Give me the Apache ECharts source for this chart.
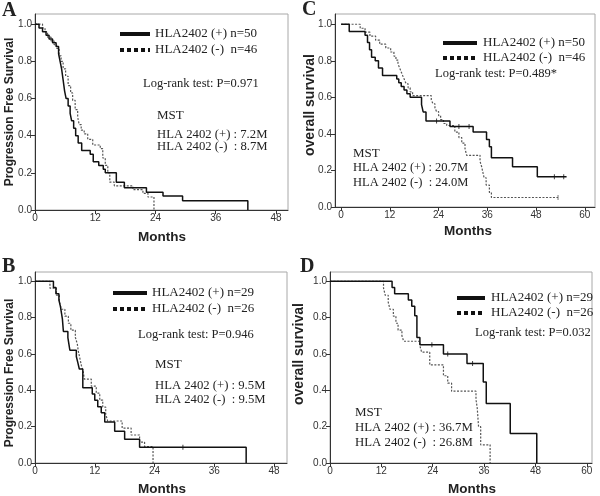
<!DOCTYPE html>
<html><head><meta charset="utf-8">
<script src="https://cdn.jsdelivr.net/npm/echarts@6/dist/echarts.min.js"></script>
<style>html,body{margin:0;padding:0;background:#fff}#c{width:600px;height:496px}</style>
</head><body><div id="c"></div>
<script>
// ---- data: [month, survival] step events ----
const xTicks48 = [0, 12, 24, 36, 48];
const xTicks60 = [0, 12, 24, 36, 48, 60];
const yTicks = [0, 0.2, 0.4, 0.6, 0.8, 1.0];

const aPos = [[0,1],[0.8,0.98],[1.5,0.96],[2.2,0.94],[2.8,0.92],[3.5,0.90],[4.2,0.88],[4.7,0.84],[5.0,0.80],[5.3,0.76],[5.6,0.70],[5.9,0.64],[6.2,0.60],[6.6,0.56],[7.0,0.52],[7.3,0.48],[7.7,0.44],[8.1,0.40],[8.6,0.36],[9.3,0.32],[11.0,0.30],[11.6,0.26],[12.7,0.24],[13.6,0.22],[14.0,0.20],[16.2,0.15],[17.8,0.12],[22.2,0.095],[25.5,0.075],[29.4,0.05],[42.4,0.0]];
const aNeg = [[0,1],[1.5,0.98],[2.0,0.96],[2.5,0.93],[3.2,0.91],[3.8,0.89],[4.3,0.87],[4.8,0.83],[5.2,0.80],[5.6,0.76],[6.1,0.72],[6.6,0.67],[7.1,0.63],[7.5,0.59],[8.0,0.54],[8.5,0.50],[8.8,0.46],[9.2,0.43],[9.8,0.41],[10.5,0.38],[11.5,0.35],[13.0,0.33],[13.5,0.28],[14.0,0.24],[14.5,0.20],[14.9,0.15],[15.8,0.13],[19.5,0.11],[21.5,0.09],[22.5,0.07],[23.7,0.0]];

const bPos = [[0,1],[3.7,0.966],[4.2,0.931],[4.8,0.897],[5.1,0.862],[5.3,0.828],[5.5,0.793],[5.7,0.724],[6.6,0.69],[7.0,0.621],[8.3,0.586],[8.6,0.552],[8.9,0.517],[9.6,0.414],[11.5,0.379],[12.0,0.345],[12.6,0.31],[13.3,0.276],[14.0,0.226],[16.0,0.175],[18.0,0.13],[21.0,0.087],[42.4,0.0]];
const bNeg = [[0,1],[3.0,0.962],[4.3,0.923],[4.9,0.885],[5.3,0.846],[6.0,0.808],[6.7,0.769],[7.2,0.731],[8.1,0.692],[8.5,0.654],[8.7,0.615],[9.0,0.577],[9.3,0.538],[9.7,0.50],[9.9,0.462],[11.3,0.423],[12.3,0.385],[13.0,0.346],[13.6,0.308],[14.2,0.269],[14.6,0.231],[17.5,0.192],[19.3,0.154],[21.0,0.115],[22.0,0.09],[23.7,0.0]];

const cPos = [[0,1],[2.0,0.96],[5.9,0.94],[6.5,0.90],[7.0,0.86],[7.5,0.82],[8.4,0.80],[9.2,0.76],[10.2,0.72],[13.7,0.70],[14.2,0.68],[14.8,0.66],[15.5,0.64],[16.2,0.62],[17.0,0.60],[19.8,0.56],[20.2,0.52],[20.9,0.47],[26.8,0.44],[32.5,0.41],[35.8,0.37],[36.5,0.33],[37.0,0.27],[42.2,0.22],[48.3,0.165],[55.5,0.165]];
const cNeg = [[0,1],[4.7,0.978],[5.9,0.957],[7.1,0.935],[8.5,0.913],[9.5,0.891],[11.0,0.87],[12.2,0.848],[13.0,0.826],[13.5,0.804],[14.0,0.783],[14.4,0.761],[14.8,0.739],[15.2,0.717],[15.6,0.696],[16.0,0.674],[16.5,0.652],[17.0,0.63],[17.6,0.609],[22.2,0.587],[22.6,0.565],[23.1,0.543],[23.5,0.522],[24.0,0.50],[24.5,0.478],[25.2,0.457],[26.0,0.446],[28.0,0.41],[29.0,0.38],[29.7,0.35],[30.5,0.32],[30.9,0.283],[34.2,0.25],[34.6,0.22],[34.9,0.19],[35.2,0.16],[35.7,0.12],[36.5,0.08],[37.0,0.052],[53.4,0.052]];

const dPos = [[0,1],[14.5,0.966],[15.1,0.931],[18.3,0.897],[19.1,0.862],[19.8,0.81],[20.3,0.69],[21.0,0.65],[26.5,0.60],[32.0,0.547],[35.8,0.446],[36.5,0.327],[42.1,0.163],[48.3,0.0]];
const dNeg = [[0,1],[12.5,0.962],[12.9,0.923],[13.6,0.885],[14.0,0.846],[14.8,0.808],[15.4,0.769],[15.9,0.731],[16.8,0.70],[17.2,0.67],[21.0,0.645],[21.4,0.61],[23.3,0.54],[26.5,0.48],[27.5,0.44],[28.4,0.395],[34.1,0.35],[34.4,0.30],[34.7,0.20],[35.2,0.10],[37.4,0.0]];

// censor marks
const bPosCens = [[29.7,0.087]];
const cPosCens = [[23.5,0.47],[29.0,0.44],[31.5,0.44],[52.5,0.165],[54.8,0.165]];
const cNegCens = [[53.4,0.052]];
const dPosCens = [[23.8,0.65],[27.5,0.60],[33.3,0.547]];

// ---- layout ----
const panels = [
  {grid:{left:35,top:14,width:253,height:196}, xmin:0, xmax:50.4, ymax:1.055, ticks:xTicks48, pos:aPos, neg:aNeg, pc:[], nc:[]},
  {grid:{left:35,top:272,width:252,height:191}, xmin:0, xmax:50.6, ymax:1.051, ticks:xTicks48, pos:bPos, neg:bNeg, pc:bPosCens, nc:[]},
  {grid:{left:335,top:14,width:260,height:193}, xmin:-1.5, xmax:62.5, ymax:1.056, ticks:xTicks60, pos:cPos, neg:cNeg, pc:cPosCens, nc:cNegCens},
  {grid:{left:330,top:272,width:262,height:191}, xmin:0, xmax:61.2, ymax:1.051, ticks:xTicks60, pos:dPos, neg:dNeg, pc:dPosCens, nc:[]}
];

const grids = [], xAxes = [], yAxes = [], series = [];
panels.forEach((p, i) => {
  grids.push(Object.assign({show:true, borderColor:'#a8a8a8', borderWidth:1, backgroundColor:'#fff'}, p.grid));
  xAxes.push({type:'value', gridIndex:i, min:p.xmin, max:p.xmax,
    axisLine:{show:true, onZero:false, lineStyle:{color:'#333', width:1}},
    axisTick:{show:true, customValues:p.ticks, length:4, lineStyle:{color:'#333'}},
    axisLabel:{customValues:p.ticks, fontSize:10, color:'#333', fontFamily:'Liberation Sans', margin:3},
    splitLine:{show:false}});
  yAxes.push({type:'value', gridIndex:i, min:0, max:p.ymax,
    axisLine:{show:true, onZero:false, lineStyle:{color:'#333', width:1}},
    axisTick:{show:true, customValues:yTicks, length:4, lineStyle:{color:'#333'}},
    axisLabel:{customValues:yTicks, fontSize:10, color:'#333', fontFamily:'Liberation Sans', margin:3, formatter:v=>v.toFixed(1)},
    splitLine:{show:false}});
  series.push({type:'line', xAxisIndex:i, yAxisIndex:i, step:'end', data:p.neg, showSymbol:false, symbol:'none',
    lineStyle:{color:'#555', width:1.2, type:[2,1.5]}, z:2, silent:true});
  series.push({type:'line', xAxisIndex:i, yAxisIndex:i, step:'end', data:p.pos, showSymbol:false, symbol:'none',
    lineStyle:{color:'#111', width:1.5}, z:3, silent:true});
  if (p.pc.length) series.push({type:'scatter', xAxisIndex:i, yAxisIndex:i, data:p.pc, symbol:'rect', symbolSize:[1,5], itemStyle:{color:'#111'}, z:4, silent:true});
  if (p.nc.length) series.push({type:'scatter', xAxisIndex:i, yAxisIndex:i, data:p.nc, symbol:'rect', symbolSize:[1,5], itemStyle:{color:'#555'}, z:4, silent:true});
});

// ---- texts ----
const serif = '"Liberation Serif", "Times New Roman", serif';
const sans = '"Liberation Sans", Arial, sans-serif';
const G = [];
function txt(t, x, y, size, opts){
  opts = opts || {};
  G.push({type:'text', x:x, y:y, rotation:opts.rot||0, z:10,
    style:{text:t, font:(opts.bold?'bold ':'')+size+'px '+(opts.sans?sans:serif), fill:opts.fill||'#222',
      textAlign:opts.align||'left', textVerticalAlign:'middle'}});
}
function key(x1, x2, y, dotted){
  G.push({type:'line', z:10, shape:{x1:x1, y1:y, x2:x2, y2:y},
    style:{stroke:'#111', lineWidth:4, lineDash:dotted?[4,3]:null}});
}
// panel letters
txt('A', 2, 11, 20, {bold:true});
txt('C', 302, 10, 20, {bold:true});
txt('B', 2, 267, 20, {bold:true});
txt('D', 300, 267, 20, {bold:true});
// axis titles
txt('Progression Free Survival', 10, 112, 12, {bold:true, sans:true, rot:Math.PI/2, align:'center'});
txt('Progression Free Survival', 10, 373, 12, {bold:true, sans:true, rot:Math.PI/2, align:'center'});
txt('overall survival', 310, 105, 14, {bold:true, sans:true, rot:Math.PI/2, align:'center'});
txt('overall survival', 299, 354, 14, {bold:true, sans:true, rot:Math.PI/2, align:'center'});
txt('Months', 162, 237, 13.5, {bold:true, sans:true, align:'center'});
txt('Months', 162, 489, 13.5, {bold:true, sans:true, align:'center'});
txt('Months', 468, 231, 13.5, {bold:true, sans:true, align:'center'});
txt('Months', 472, 489, 13.5, {bold:true, sans:true, align:'center'});
// panel A
key(120, 150, 34, false); txt('HLA2402 (+) n=50', 155, 34, 13);
key(120, 150, 50, true);  txt('HLA2402 (-)  n=46', 155, 50, 13);
txt('Log-rank test: P=0.971', 143, 84, 12.5);
txt('MST', 157, 116, 13);
txt('HLA 2402 (+) : 7.2M', 157, 135, 12.7);
txt('HLA 2402 (-)  : 8.7M', 157, 147, 12.7);
// panel B
key(113, 147, 293, false); txt('HLA2402 (+) n=29', 152, 293, 13);
key(113, 147, 309, true);  txt('HLA2402 (-)  n=26', 152, 309, 13);
txt('Log-rank test: P=0.946', 138, 335, 12.5);
txt('MST', 155, 365, 13);
txt('HLA 2402 (+) : 9.5M', 155, 386, 12.7);
txt('HLA 2402 (-)  : 9.5M', 155, 400, 12.7);
// panel C
key(443, 477, 43, false); txt('HLA2402 (+) n=50', 483, 43, 13);
key(443, 477, 58, true);  txt('HLA2402 (-)  n=46', 483, 58, 13);
txt('Log-rank test: P=0.489*', 435, 74, 12.5);
txt('MST', 353, 154, 13);
txt('HLA 2402 (+) : 20.7M', 353, 168, 12.5);
txt('HLA 2402 (-)  : 24.0M', 353, 183, 12.5);
// panel D
key(457, 485, 298, false); txt('HLA2402 (+) n=29', 491, 298, 13);
key(457, 485, 313, true);  txt('HLA2402 (-)  n=26', 491, 313, 13);
txt('Log-rank test: P=0.032', 475, 333, 12.5);
txt('MST', 355, 413, 13);
txt('HLA 2402 (+) : 36.7M', 355, 428, 12.8);
txt('HLA 2402 (-)  : 26.8M', 355, 443, 12.8);

const chart = echarts.init(document.getElementById('c'), null, {renderer:'canvas'});
chart.setOption({animation:false, backgroundColor:'#fff', grid:grids, xAxis:xAxes, yAxis:yAxes, series:series, graphic:G});
</script>
</body></html>
